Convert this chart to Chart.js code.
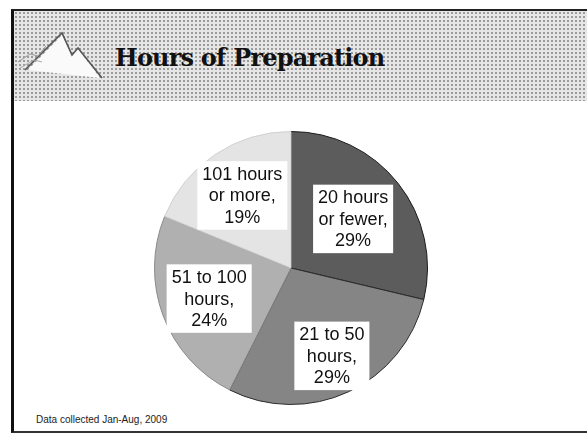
<!DOCTYPE html>
<html>
<head>
<meta charset="utf-8">
<script src="https://cdn.jsdelivr.net/npm/chart.js@4"></script>
<style>
  body { margin: 0; background: #fff; width: 587px; height: 440px; overflow: hidden; position: relative; font-family: "Liberation Sans", Arial, sans-serif; }
  .slide { position: absolute; left: 11px; top: 9px; width: 574px; height: 420px; border-left: 3px solid #111; border-top: 2px solid #222; border-bottom: 2px solid #333; border-right: 1px solid #999; }
  .header { position: absolute; left: 0; top: 0; right: 0; height: 90px;
    background-color: #e6e6e6;
    background-image: radial-gradient(#9a9a9a 0.7px, transparent 1px);
    background-size: 4px 4px; }
  .title { position: absolute; left: 101px; top: 32px; font-family: "DejaVu Serif", serif; font-weight: bold; font-size: 24px; letter-spacing: -0.8px; color: #111; }
  .note { position: absolute; left: 22px; top: 403px; font-size: 10px; color: #222; }
  svg.logo { position: absolute; left: 2px; top: 15px; }
  #wrap { position: absolute; left: 0; top: 0; width: 587px; height: 440px; }
</style>
</head>
<body>
<div class="slide">
  <div class="header">
    <svg class="logo" width="95" height="60">
      <polygon points="12,44 46,9 56,29 62,23 84,52" fill="#fafafa" stroke="none"/>
      <polyline points="9,44 46,7 56,29 62,22 86,52" fill="none" stroke="#555" stroke-width="1.6"/>
      <polyline points="2,36 14,28 22,30 30,20" fill="none" stroke="#999" stroke-width="1"/>
      <polyline points="4,42 18,34 26,36" fill="none" stroke="#aaa" stroke-width="1"/>
    </svg>
    <div class="title">Hours of Preparation</div>
  </div>
  <div class="note">Data collected Jan-Aug, 2009</div>
</div>
<div id="wrap"><canvas id="pie" width="587" height="440"></canvas></div>
<script>
// ---------------- data ----------------
const categories = ["20 hours or fewer", "21 to 50 hours", "51 to 100 hours", "101 hours or more"];
const labelLines = [["20 hours", "or fewer,"], ["21 to 50", "hours,"], ["51 to 100", "hours,"], ["101 hours", "or more,"]];
const percents = [29, 29, 24, 19];

const sliceColors = ['#5c5c5c', '#858585', '#b0b0b0', '#e4e4e4'];
const edgeColors = ['#1a1a1a', '#2a2a2a', '#8a8a8a', '#d0d0d0'];

// white boxed labels inside each slice
const boxLabels = {
    id: 'boxLabels',
    afterDatasetsDraw(chart, args, opts) {
        const ctx = chart.ctx;
        const arcs = chart.getDatasetMeta(0).data;
        ctx.save();
        ctx.font = '18px "Liberation Sans", Arial, sans-serif';
        ctx.textAlign = 'center';
        ctx.textBaseline = 'middle';
        arcs.forEach((arc, i) => {
            const mid = (arc.startAngle + arc.endAngle) / 2;
            const r = arc.outerRadius * opts.radius[i];
            const x = arc.x + Math.cos(mid) * r;
            const y = arc.y + Math.sin(mid) * r;
            const lines = labelLines[i].concat([percents[i] + '%']);
            let w = 0;
            lines.forEach(l => { w = Math.max(w, ctx.measureText(l).width); });
            const lh = 21.5;
            const bw = w + 10, bh = lines.length * lh + 4;
            ctx.fillStyle = '#fff';
            ctx.fillRect(x - bw / 2, y - bh / 2, bw, bh);
            ctx.fillStyle = '#111';
            lines.forEach((l, k) => {
                ctx.fillText(l, x, y + 1 - (lines.length - 1) * lh / 2 + k * lh);
            });
        });
        ctx.restore();
    }
};

new Chart("pie", {
    type: "pie",
    data: {
        labels: categories,
        datasets: [{
            data: percents,
            backgroundColor: sliceColors,
            borderColor: edgeColors,
            borderWidth: 1
        }]
    },
    options: {
        responsive: false,
        animation: false,
        layout: { padding: { left: 154, right: 159, top: 131, bottom: 35 } },
        plugins: {
            legend: { display: false },
            tooltip: { enabled: false },
            boxLabels: { radius: [0.58, 0.71, 0.64, 0.64] }
        }
    },
    plugins: [boxLabels]
});
</script>
</body>
</html>
